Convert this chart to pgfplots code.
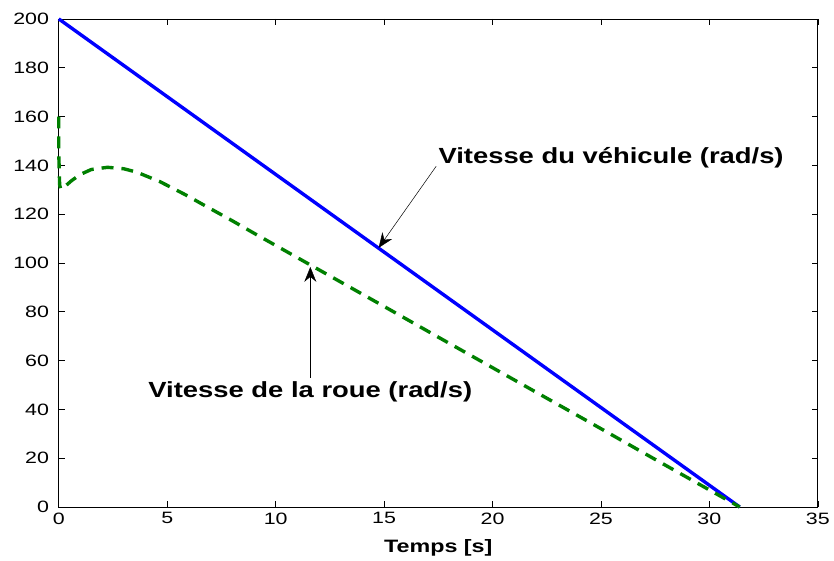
\documentclass[border=0pt]{standalone}
\usepackage{pgfplots}
\pgfplotsset{compat=1.18}
\usepackage{fontspec}
\setmainfont{Liberation Sans}
\usetikzlibrary{arrows.meta}
\definecolor{mblue}{RGB}{0,0,255}
\definecolor{mgreen}{RGB}{0,128,0}
\begin{document}
\begin{tikzpicture}
\begin{axis}[
    name=main,
    scale only axis,
    width=762pt, height=490pt,
    xmin=0, xmax=35, ymin=0, ymax=200,
    xtick={0,5,...,35}, ytick={0,20,...,200},
    tick align=inside,
    major tick length=6pt,
    axis line style={line width=0.8pt},
    tick style={black, line width=0.6pt},
    /pgf/number format/assume math mode=true,
    tick label style={font=\fontsize{16.5}{18}\selectfont, xscale=1.3},
    yticklabel style={xshift=-4pt},
    xticklabel style={yshift=-2pt},
    xlabel={\textbf{Temps [s]}},
    xlabel style={font=\fontsize{18}{20}\selectfont, xscale=1.3, yshift=-9pt},
    clip=false,
]
\addplot[mblue, line width=3.4pt] coordinates {
    (0,200) (31.4,0)
};
\addplot[mgreen, line width=3.4pt, dash pattern=on 12pt off 8pt] coordinates {
    (0,160) (0,145) (0.04,132) (0.09,130.3) (0.3,131.5) (0.6,133.8) (1,136.3)
    (1.5,138.3) (2.25,139.2) (3,138.6) (3.6,137.2) (4.67,133.3) (5.83,128)
    (6.9,122.7) (8,117.3) (9,112.2) (10,107.2) (11.2,101.2) (13,92.2)
    (15,82.2) (17.5,69.6) (20,57.1) (22.5,44.6) (25,32.1) (27.5,19.5)
    (29.2,11.0) (30.4,5.0) (31.4,0)
};
\draw[-{Stealth[length=15pt,width=12pt,inset=5pt]}, line width=0.5pt] (axis cs:17.4,139.6) -- (axis cs:14.75,106.2);
\draw[-{Stealth[length=15pt,width=12pt,inset=5pt]}, line width=0.5pt] (axis cs:11.6,53) -- (axis cs:11.6,98.4);
\node[anchor=west, inner sep=0pt, font=\bfseries\fontsize{22}{24}\selectfont, xscale=1.25]
    at (axis cs:17.5,143.3) {Vitesse du véhicule (rad/s)};
\node[anchor=center, inner sep=0pt, font=\bfseries\fontsize{22}{24}\selectfont, xscale=1.25]
    at (axis cs:11.6,47.3) {Vitesse de la roue (rad/s)};
\end{axis}
\path ([xshift=-59pt,yshift=-51pt]main.south west) rectangle ([xshift=13pt,yshift=19pt]main.north east);
\end{tikzpicture}
\end{document}
